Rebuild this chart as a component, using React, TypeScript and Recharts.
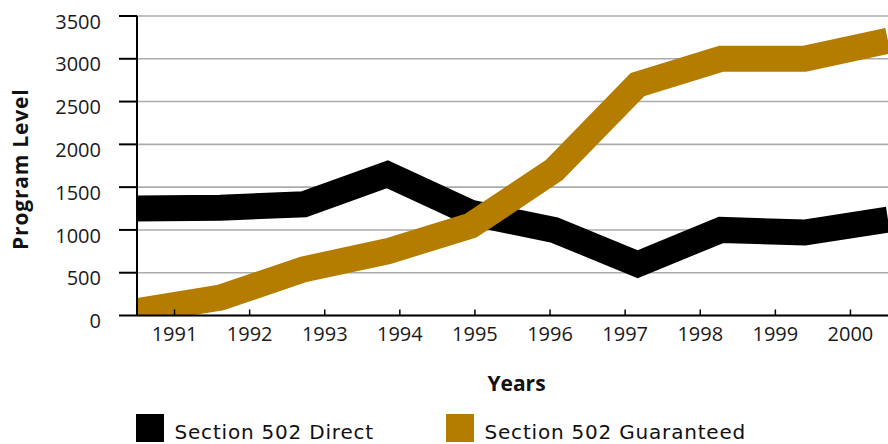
import React from 'react';
import { LineChart, Line, XAxis, YAxis, CartesianGrid, Legend } from 'recharts';

const years = ['1991', '1992', '1993', '1994', '1995', '1996', '1997', '1998', '1999', '2000'];
const directValues = [1250, 1260, 1300, 1650, 1200, 1000, 600, 1000, 970, 1120];
const guaranteedValues = [50, 210, 540, 750, 1050, 1700, 2700, 3000, 3000, 3210];
const yTicks = [0, 500, 1000, 1500, 2000, 2500, 3000, 3500];

const GOLD = '#b47d00';

const data = years.map((year, i) => ({
  idx: i,
  year,
  direct: directValues[i],
  guaranteed: guaranteedValues[i],
}));

const legendX = [136, 446];

const renderLegend = (props: any) => {
  const payload = props.payload || [];
  return (
    <svg width={888} height={36} style={{ display: 'block' }}>
      {payload.map((p: any, i: number) => (
        <g key={i}>
          <rect x={legendX[i]} y={6} width={28} height={28} fill={p.color} />
          <text
            x={legendX[i] + 38.5}
            y={31.3}
            fontFamily="DejaVu Sans"
            fontSize={20}
            letterSpacing={0.8}
            fill="#111"
          >
            {p.value}
          </text>
        </g>
      ))}
    </svg>
  );
};

const YLabel = (props: any) => {
  const vb = props.viewBox || { x: 0, y: 16, width: 137, height: 299.5 };
  const x = vb.x + 28.3;
  const y = vb.y + vb.height / 2 + 3.5;
  return (
    <text
      x={x}
      y={y}
      transform={`rotate(-90, ${x}, ${y})`}
      textAnchor="middle"
      fontFamily="Open Sans"
      fontWeight={700}
      fontSize={21}
      letterSpacing={0.8}
      fill="#111"
    >
      Program Level
    </text>
  );
};

const XLabel = (props: any) => {
  const vb = props.viewBox || { x: 137, y: 315.5, width: 751, height: 92.5 };
  return (
    <text
      x={vb.x + vb.width / 2 + 4}
      y={vb.y + 75.2}
      textAnchor="middle"
      fontFamily="Open Sans"
      fontWeight={700}
      fontSize={21}
      fill="#111"
    >
      Years
    </text>
  );
};

export default function App() {
  return (
    <div style={{ width: 888, height: 444, overflow: 'hidden' }}>
      <style>{'html,body{margin:0;padding:0;overflow:hidden;}'}</style>
      <LineChart
        width={888}
        height={444}
        data={data}
        margin={{ top: 16, right: 0, left: 0, bottom: 0 }}
        style={{ fontFamily: 'Open Sans' }}
      >
        <CartesianGrid
          vertical={false}
          xAxisId="pos"
          stroke="#ababab"
          strokeWidth={1.6}
        />
        <XAxis
          xAxisId="cat"
          type="number"
          dataKey="idx"
          domain={[-0.5, 9.5]}
          ticks={years.map((_, i) => i)}
          interval={0}
          allowDataOverflow
          tickFormatter={(v: number) => years[v]}
          height={92.5}
          tickSize={-6}
          tickMargin={17}
          axisLine={{ stroke: '#000', strokeWidth: 2 }}
          tickLine={{ stroke: '#000', strokeWidth: 1.5 }}
          tick={{ fill: '#1a1a1a', fontSize: 20, fontFamily: 'Open Sans' }}
          label={<XLabel />}
        />
        <XAxis
          xAxisId="pos"
          type="number"
          dataKey="idx"
          domain={[0, 9]}
          allowDataOverflow
          hide
        />
        <YAxis
          width={137}
          domain={[0, 3500]}
          ticks={yTicks}
          interval={0}
          allowDataOverflow
          tickSize={18}
          tickMargin={18}
          axisLine={{ stroke: '#000', strokeWidth: 2 }}
          tickLine={{ stroke: '#000', strokeWidth: 2 }}
          tick={{ fill: '#1a1a1a', fontSize: 20, fontFamily: 'Open Sans', dy: 5.5 }}
          label={<YLabel />}
        />
        <Line
          xAxisId="pos"
          type="linear"
          dataKey="direct"
          name="Section 502 Direct"
          stroke="#000"
          strokeWidth={26}
          strokeLinejoin="miter"
          strokeLinecap="butt"
          dot={false}
          activeDot={false}
          isAnimationActive={false}
        />
        <Line
          xAxisId="pos"
          type="linear"
          dataKey="guaranteed"
          name="Section 502 Guaranteed"
          stroke={GOLD}
          strokeWidth={26}
          strokeLinejoin="miter"
          strokeLinecap="butt"
          dot={false}
          activeDot={false}
          isAnimationActive={false}
        />
        <Legend
          verticalAlign="bottom"
          align="left"
          content={renderLegend}
          wrapperStyle={{ left: 0, bottom: 0, width: 888, height: 36 }}
        />
      </LineChart>
    </div>
  );
}
